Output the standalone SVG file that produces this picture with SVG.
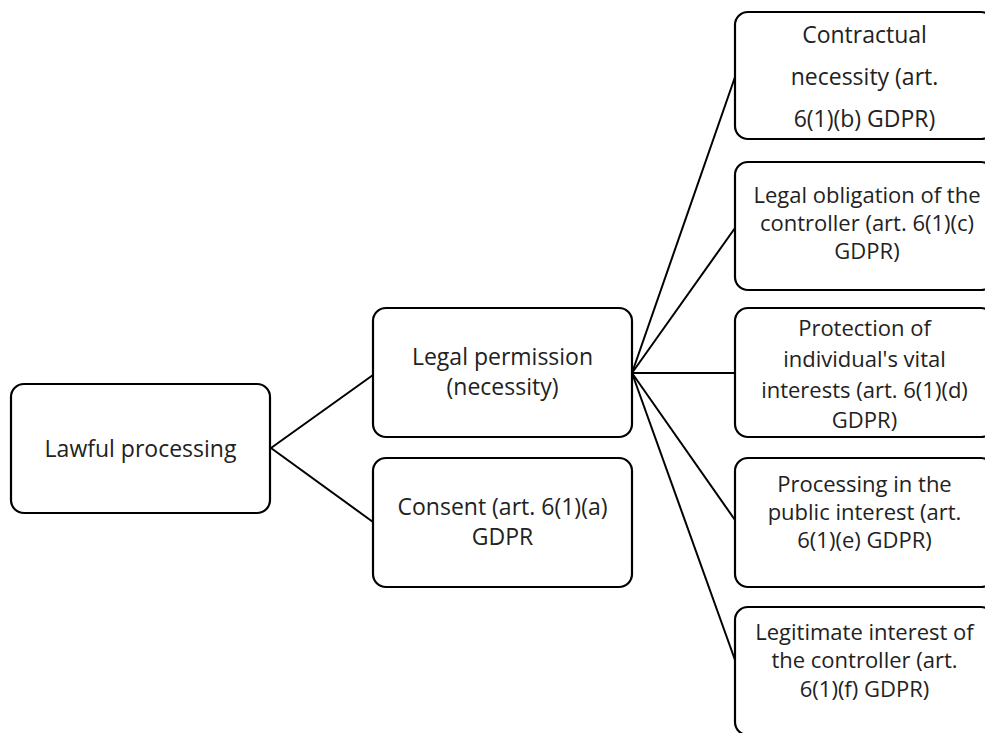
<svg xmlns="http://www.w3.org/2000/svg" width="985" height="733" viewBox="0 0 985 733">
<style>
.box{fill:#fff;stroke:#000;stroke-width:2.2}
.lbl{font-family:"Open Sans","Liberation Sans",sans-serif;font-size:23px;fill:#222;text-anchor:middle}
.sm{font-size:22px}
.con{stroke:#000;stroke-width:2;fill:none}
</style>
<rect width="985" height="733" fill="#fff"/>
<g id="connectors">
<line class="con" x1="271" y1="448" x2="373" y2="375"/>
<line class="con" x1="271" y1="448" x2="373" y2="522"/>
<line class="con" x1="632" y1="373" x2="735" y2="77"/>
<line class="con" x1="632" y1="373" x2="735" y2="228"/>
<line class="con" x1="632" y1="373" x2="735" y2="373"/>
<line class="con" x1="632" y1="373" x2="735" y2="520"/>
<line class="con" x1="632" y1="373" x2="735" y2="660"/>
</g>
<g id="lawful">
<rect class="box" x="11" y="384" width="259" height="129" rx="13"/>
<text class="lbl" x="140.5" y="457">Lawful processing</text>
</g>
<g id="legal-permission">
<rect class="box" x="373" y="308" width="259" height="129" rx="13"/>
<text class="lbl" x="502.5" y="365">Legal permission</text>
<text class="lbl" x="502.5" y="395">(necessity)</text>
</g>
<g id="consent">
<rect class="box" x="373" y="458" width="259" height="129" rx="13"/>
<text class="lbl" x="502.5" y="515">Consent (art. 6(1)(a)</text>
<text class="lbl" x="502.5" y="545">GDPR</text>
</g>
<g id="contractual">
<rect class="box" x="735" y="12" width="259" height="127" rx="13"/>
<text class="lbl" x="864.5" y="43">Contractual</text>
<text class="lbl" x="864.5" y="85">necessity (art.</text>
<text class="lbl" x="864.5" y="127">6(1)(b) GDPR)</text>
</g>
<g id="legal-obligation">
<rect class="box" x="735" y="162" width="259" height="128" rx="13"/>
<text class="lbl sm" x="867" y="203">Legal obligation of the</text>
<text class="lbl sm" x="867" y="231">controller (art. 6(1)(c)</text>
<text class="lbl sm" x="867" y="259">GDPR)</text>
</g>
<g id="vital-interests">
<rect class="box" x="735" y="308" width="259" height="129" rx="13"/>
<text class="lbl sm" x="864.5" y="336">Protection of</text>
<text class="lbl sm" x="864.5" y="367">individual's vital</text>
<text class="lbl sm" x="864.5" y="398">interests (art. 6(1)(d)</text>
<text class="lbl sm" x="864.5" y="428">GDPR)</text>
</g>
<g id="public-interest">
<rect class="box" x="735" y="458" width="259" height="129" rx="13"/>
<text class="lbl sm" x="864.5" y="492">Processing in the</text>
<text class="lbl sm" x="864.5" y="520">public interest (art.</text>
<text class="lbl sm" x="864.5" y="548">6(1)(e) GDPR)</text>
</g>
<g id="legitimate-interest">
<rect class="box" x="735" y="607" width="259" height="128" rx="13"/>
<text class="lbl sm" x="864.5" y="640">Legitimate interest of</text>
<text class="lbl sm" x="864.5" y="668">the controller (art.</text>
<text class="lbl sm" x="864.5" y="697">6(1)(f) GDPR)</text>
</g>
</svg>
